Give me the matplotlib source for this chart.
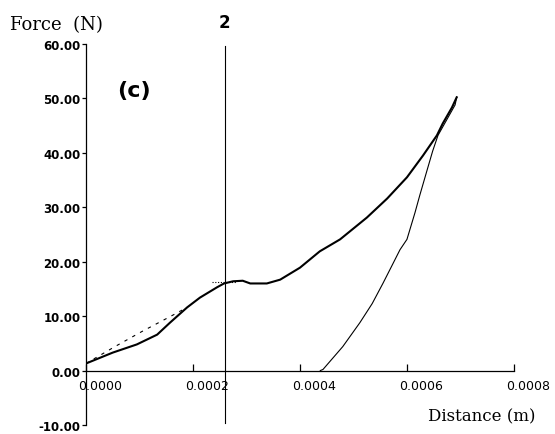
import matplotlib
matplotlib.use("Agg")
import matplotlib.pyplot as plt
import matplotlib.transforms as mtransforms
import numpy as np

# loading branch (distance in m, force in N)
load_x = [0.0, 0.50e-4, 0.95e-4, 1.33e-4, 1.57e-4, 1.89e-4, 2.13e-4, 2.45e-4, 2.58e-4,
          2.75e-4, 2.93e-4, 3.07e-4, 3.38e-4, 3.63e-4, 4.00e-4, 4.37e-4, 4.75e-4,
          5.25e-4, 5.63e-4, 6.00e-4, 6.30e-4, 6.56e-4, 6.67e-4, 6.84e-4, 6.93e-4]
load_y = [1.3, 3.3, 4.8, 6.6, 8.8, 11.6, 13.4, 15.3, 16.0,
          16.4, 16.5, 16.0, 16.0, 16.7, 18.9, 21.9, 24.1,
          28.1, 31.6, 35.5, 39.5, 43.2, 45.4, 48.3, 50.2]

# unloading branch
unload_x = [6.93e-4, 6.90e-4, 6.74e-4, 6.58e-4, 6.48e-4, 6.37e-4, 6.24e-4, 6.15e-4,
            6.00e-4, 5.87e-4, 5.70e-4, 5.55e-4, 5.35e-4, 5.12e-4, 4.80e-4, 4.43e-4, 4.38e-4]
unload_y = [50.2, 48.8, 46.0, 43.2, 40.3, 36.6, 32.2, 29.0,
            24.1, 22.2, 18.9, 16.0, 12.3, 8.8, 4.4, 0.2, 0.0]

# dashed start segment and short dotted step near marker 2
dash_x = [0.0, 0.54e-4, 1.05e-4, 1.57e-4, 1.89e-4]
dash_y = [1.3, 4.4, 7.2, 9.9, 11.6]
step_x = [2.35e-4, 2.82e-4]
step_y = [16.2, 16.2]

marker_x = 2.59e-4
marker_span = [-9.6, 59.6]

xticks = [0.0, 0.0002, 0.0004, 0.0006, 0.0008]
xtick_labels = ["0.0000", "0.0002", "0.0004", "0.0006", "0.0008"]
yticks = [-10, 0, 10, 20, 30, 40, 50, 60]
ytick_labels = ["-10.00", "0.00", "10.00", "20.00", "30.00", "40.00", "50.00", "60.00"]

fig = plt.figure(figsize=(5.55, 4.35), dpi=100)
ax = fig.add_axes([0.155, 0.0207, 0.771, 0.876])

ax.plot(load_x, load_y, color="black", lw=1.5, solid_joinstyle="round")
ax.plot(unload_x, unload_y, color="black", lw=0.8)
ax.plot(dash_x, dash_y, color="black", lw=0.8, dashes=(3, 5))
ax.plot(step_x, step_y, color="black", lw=0.8, dashes=(1, 1.5))
ax.plot([marker_x, marker_x], marker_span, color="black", lw=0.8, clip_on=False)

ax.set_xlim(0, 0.0008)
ax.set_ylim(-10, 60)

# axes drawn only as two lines: y axis on the left, x axis through zero
for side in ["top", "right"]:
    ax.spines[side].set_visible(False)
ax.spines["bottom"].set_position(("data", 0))
ax.spines["bottom"].set_bounds(0, 0.0008)
ax.spines["left"].set_linewidth(0.9)
ax.spines["bottom"].set_linewidth(0.9)

ax.set_xticks(xticks)
ax.set_xticklabels(xtick_labels, fontsize=9, family="DejaVu Sans")
ax.set_yticks(yticks)
ax.set_yticklabels(ytick_labels, fontsize=8.5, fontweight="bold", family="DejaVu Sans")
ax.tick_params(axis="x", direction="in", length=5, width=0.9, pad=6)
ax.tick_params(axis="y", direction="out", length=3, width=0.9, pad=1)

# x labels sit slightly right of their ticks
shift = mtransforms.ScaledTranslation(-0.08, 0, fig.dpi_scale_trans)
for lbl in ax.get_xticklabels():
    lbl.set_horizontalalignment("left")
    lbl.set_transform(lbl.get_transform() + shift)

fig.text(0.018, 0.943, "Force  (N)", family="DejaVu Serif", fontsize=13, va="center", ha="left")
fig.text(0.868, 0.042, "Distance (m)", family="DejaVu Serif", fontsize=12, va="center", ha="center")

ax.text(marker_x, 64, "2", fontsize=12, fontweight="bold", ha="center", va="center", clip_on=False)
ax.text(0.9e-4, 51.5, "(c)", fontsize=16, fontweight="bold", ha="center", va="center")

fig.savefig("out.png", dpi=100, facecolor="white")
